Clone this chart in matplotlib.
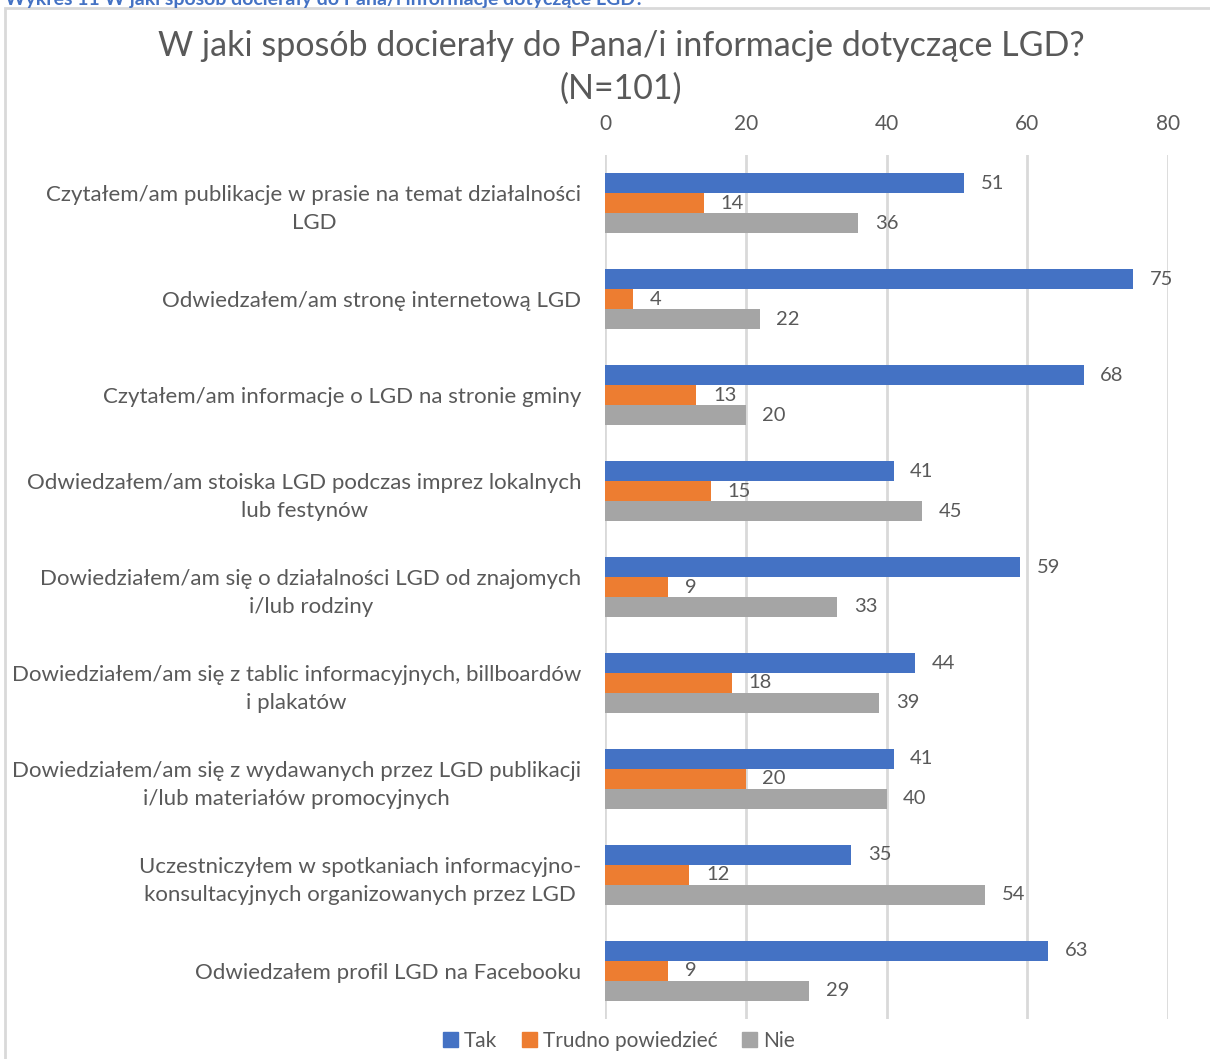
import numpy as np
import matplotlib.pyplot as plt
from matplotlib.patches import Rectangle, Patch

plt.rcParams['font.family'] = ['Lato', 'DejaVu Sans']

# Dane z wykresu
kategorie = [
    "Czytałem/am publikacje w prasie na temat działalności\nLGD",
    "Odwiedzałem/am stronę internetową LGD",
    "Czytałem/am informacje o LGD na stronie gminy",
    "Odwiedzałem/am stoiska LGD podczas imprez lokalnych\nlub festynów",
    "Dowiedziałem/am się o działalności LGD od znajomych\ni/lub rodziny",
    "Dowiedziałem/am się z tablic informacyjnych, billboardów\ni plakatów",
    "Dowiedziałem/am się z wydawanych przez LGD publikacji\ni/lub materiałów promocyjnych",
    "Uczestniczyłem w spotkaniach informacyjno-\nkonsultacyjnych organizowanych przez LGD",
    "Odwiedzałem profil LGD na Facebooku",
]
tak = [51, 75, 68, 41, 59, 44, 41, 35, 63]
trudno = [14, 4, 13, 15, 9, 18, 20, 12, 9]
nie = [36, 22, 20, 45, 33, 39, 40, 54, 29]
serie = ["Tak", "Trudno powiedzieć", "Nie"]
kolory = ["#4472C4", "#ED7D31", "#A5A5A5"]
x_ticks = [0, 20, 40, 60, 80]

tekst = "#595959"

fig = plt.figure(figsize=(12.10, 10.59), dpi=100)
ax = fig.add_axes([0.5, 0.0378, 0.4653, 0.8158])

y = np.arange(len(kategorie))
h = 0.2083
for i, (wart, kol) in enumerate(zip([tak, trudno, nie], kolory)):
    pos = y + (i - 1) * h
    ax.barh(pos, wart, height=h, color=kol, zorder=3)
    for p, v in zip(pos, wart):
        ax.annotate(str(v), (v, p), xytext=(12, 0), textcoords='offset points',
                    va='center', ha='left', fontsize=14.5, color=tekst)

ax.set_xlim(0, 80)
ax.set_ylim(len(kategorie) - 0.5, -0.5)
ax.set_xticks(x_ticks)
ax.xaxis.tick_top()
ax.tick_params(axis='x', length=0, pad=15, labelsize=15, labelcolor=tekst)
ax.set_yticks(y)
ax.set_yticklabels(kategorie, fontsize=16, color=tekst, multialignment='center',
                   linespacing=1.5)
ax.tick_params(axis='y', length=0, pad=17)
ax.grid(axis='x', color='#D9D9D9', linewidth=2, zorder=0)
for s in ax.spines.values():
    s.set_visible(False)

fig.text(621 / 1210, 1 - 67 / 1059, "W jaki sposób docierały do Pana/i informacje dotyczące LGD?\n(N=101)",
         ha='center', va='center', fontsize=24.5, color=tekst, linespacing=1.4)

# ramka wykresu
fig.patches.append(Rectangle((5 / 1210, -0.05), 1.1, 1 - 8 / 1059 + 0.05,
                             transform=fig.transFigure, fill=False,
                             edgecolor='#D9D9D9', linewidth=2))

# podpis wykresu (ucięty u góry)
fig.text(0.004, 1 - 5 / 1059, "Wykres 11 W jaki sposób docierały do Pana/i informacje dotyczące LGD?",
         ha='left', va='baseline', fontsize=14, fontweight='bold', color='#4472C4')

uchwyty = [Patch(color=k, label=s) for k, s in zip(kolory, serie)]
fig.legend(handles=uchwyty, loc='center', bbox_to_anchor=(619 / 1210, 1 - 1041 / 1059),
           ncol=3, frameon=False, fontsize=15, labelcolor=tekst, handlelength=0.7,
           handleheight=0.7, handletextpad=0.3, columnspacing=1.2)

fig.savefig("out.png", dpi=100)
